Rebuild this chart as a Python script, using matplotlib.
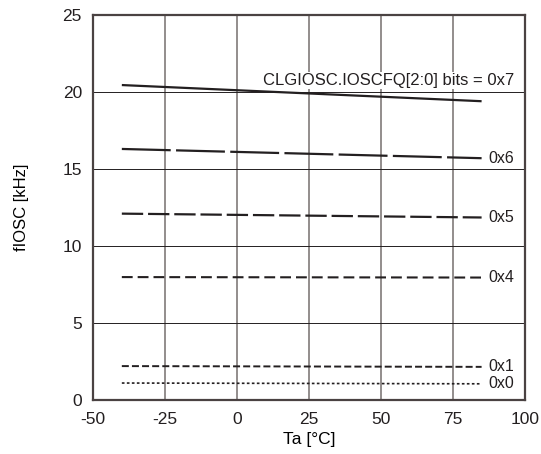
import numpy as np
import matplotlib.pyplot as plt

plt.rcParams['font.family'] = ['Liberation Sans', 'DejaVu Sans']
plt.rcParams['axes.unicode_minus'] = False

# data
temp = [-40, 85]
f_0x7 = [20.45, 19.4]
f_0x6 = [16.3, 15.7]
f_0x5 = [12.1, 11.85]
f_0x4 = [7.98, 7.95]
f_0x1 = [2.2, 2.15]
f_0x0 = [1.1, 1.05]
labels = ['CLGIOSC.IOSCFQ[2:0] bits = 0x7', '0x6', '0x5', '0x4', '0x1', '0x0']

fig = plt.figure(figsize=(5.41, 4.54), dpi=100)
ax = fig.add_axes([0.172, 0.119, 0.798, 0.848])

ax.plot(temp, f_0x7, color='#231f20', lw=1.6, solid_capstyle='butt')
ax.plot(temp, f_0x6, color='#231f20', lw=1.6, dashes=(22, 2.4))
ax.plot(temp, f_0x5, color='#231f20', lw=1.6, dashes=(9.6, 2.2))
ax.plot(temp, f_0x4, color='#231f20', lw=1.5, dashes=(5.2, 2.4))
ax.plot(temp, f_0x1, color='#231f20', lw=1.4, dashes=(3.6, 1.6))
ax.plot(temp, f_0x0, color='#231f20', lw=1.2, dashes=(1.6, 1.4))

ax.text(96.2, 20.75, labels[0], ha='right', va='center', fontsize=12,
        color='#231f20', bbox=dict(facecolor='white', edgecolor='none', pad=1))
ends = [f_0x6[1], f_0x5[1], f_0x4[1], f_0x1[1], f_0x0[1]]
for lab, y in zip(labels[1:], ends):
    ax.text(87.3, y, lab, ha='left', va='center', fontsize=11.5, color='#231f20')

ax.set_xlim(-50, 100)
ax.set_ylim(0, 25)
ax.set_xticks([-50, -25, 0, 25, 50, 75, 100])
ax.set_yticks([0, 5, 10, 15, 20, 25])
ax.tick_params(length=0, labelsize=12.5, colors='#231f20')
ax.tick_params(axis='x', pad=9)
ax.tick_params(axis='y', pad=8)

for x in [-25, 0, 25, 50, 75]:
    ax.axvline(x, color='#8a8584', lw=1.3, zorder=0)
for y in [5, 10, 15, 20]:
    ax.axhline(y, color='#231f20', lw=0.7, zorder=0)

for s in ax.spines.values():
    s.set_color('#4a4242')
    s.set_linewidth(1.6)

ax.set_xlabel('Ta [°C]', fontsize=12.5, labelpad=3)
ax.set_ylabel('fIOSC [kHz]', fontsize=12, labelpad=24)

fig.savefig('out.png', dpi=100)
